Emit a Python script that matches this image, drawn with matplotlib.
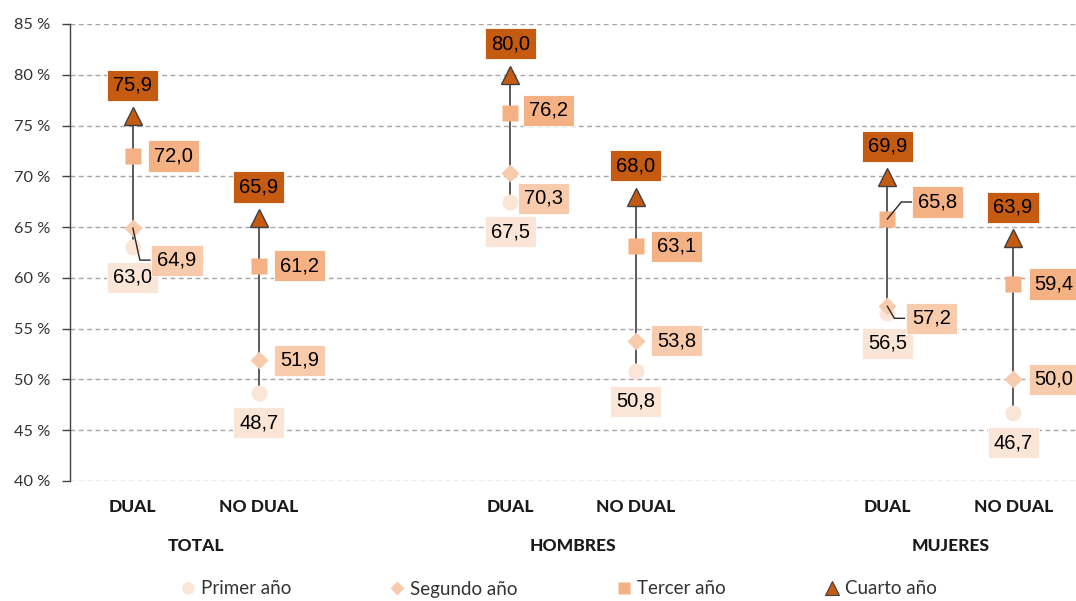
import matplotlib
matplotlib.use("Agg")
import matplotlib.pyplot as plt
from matplotlib.lines import Line2D
from matplotlib.transforms import blended_transform_factory

# --- data -------------------------------------------------------------
groups = ["TOTAL", "HOMBRES", "MUJERES"]
kinds = ["DUAL", "NO DUAL"]
primer = [63.0, 48.7, 67.5, 50.8, 56.5, 46.7]
segundo = [64.9, 51.9, 70.3, 53.8, 57.2, 50.0]
tercer = [72.0, 61.2, 76.2, 63.1, 65.8, 59.4]
cuarto = [75.9, 65.9, 80.0, 68.0, 69.9, 63.9]
yticks = [40, 45, 50, 55, 60, 65, 70, 75, 80, 85]
series_names = ["Primer año", "Segundo año", "Tercer año", "Cuarto año"]

# slot positions (one empty slot between groups)
xpos = [0, 1, 3, 4, 6, 7]

# --- style ------------------------------------------------------------
c1, c2, c3, c4 = "#FBE5D6", "#F8CBAD", "#F4B183", "#C55A11"
edge_dark = "#404040"
lab_font = "Liberation Sans"
ui_font = "Lato"

W, H, DPI = 1076, 601, 100
fig = plt.figure(figsize=(W / DPI, H / DPI), dpi=DPI)
ax = fig.add_axes([70 / W, 1 - 481 / H, 1 - 70 / W, (481 - 24) / H])
ax.set_xlim(-0.5, 7.5)
ax.set_ylim(40, 85)

# dashed horizontal grid
for v in yticks:
    ax.axhline(v, color="#A6A6A6", lw=1.0, ls=(0, (3.5, 2.5)), zorder=0)

for s in ["top", "right", "bottom"]:
    ax.spines[s].set_visible(False)
ax.spines["left"].set_color(edge_dark)
ax.spines["left"].set_linewidth(1.0)
ax.set_xticks([])
ax.set_yticks(yticks)
ax.set_yticklabels([f"{v} %" for v in yticks], fontfamily=ui_font,
                   fontsize=11.8, color="#333333")
ax.tick_params(axis="y", direction="out", length=6, width=1.0,
               color=edge_dark, pad=8)

# high-low lines
for x, lo, hi in zip(xpos, primer, cuarto):
    ax.plot([x, x], [lo, hi], color="#4D4D4D", lw=1.3, zorder=2)

ax.plot(xpos, primer, ls="none", marker="o", ms=11.5, mfc=c1, mec="none", zorder=3)
ax.plot(xpos, segundo, ls="none", marker="D", ms=9.5, mfc=c2, mec="none", zorder=3)
ax.plot(xpos, tercer, ls="none", marker="s", ms=11, mfc=c3, mec="none", zorder=3)
ax.plot(xpos, cuarto, ls="none", marker="^", ms=12.5, mfc=c4, mec=edge_dark,
        mew=1.0, zorder=4)

# label offsets in pixels (dx, dy up); a third entry gives a leader elbow
off1 = [(0, -30)] * 6
off2 = [(44, -32, (7, -32)), (41, 0), (33, -25), (41, 0), (44, -12, (7, -12)), (41, 0)]
off3 = [(41, 0), (41, 0), (38, 3), (41, 0), (50, 17, (14, 17)), (41, 0)]
off4 = [(0, 31)] * 6


def px_to_data(x, y, dx, dy):
    px, py = ax.transData.transform((x, y))
    return ax.transData.inverted().transform((px + dx, py + dy))


def labels(vals, offs, fc):
    for x, v, o in zip(xpos, vals, offs):
        dx, dy = o[0], o[1]
        ax.annotate(f"{v:.1f}".replace(".", ","), (x, v), xytext=(dx, dy),
                    textcoords="offset pixels", ha="center", va="center",
                    fontfamily=lab_font, fontsize=14.5, color="black", zorder=6,
                    bbox=dict(boxstyle="square,pad=0.3", fc=fc, ec="white",
                              lw=0.6))
        if len(o) == 3:
            ex, ey = o[2]
            p1 = px_to_data(x, v, ex, ey)
            p2 = px_to_data(x, v, ex + 10, ey)
            ax.plot([x, p1[0], p2[0]], [v, p1[1], p2[1]], color="#262626",
                    lw=1.0, zorder=5)


labels(primer, off1, c1)
labels(segundo, off2, c2)
labels(tercer, off3, c3)
labels(cuarto, off4, c4)

# category and group labels under the axis
tr = blended_transform_factory(ax.transData, fig.transFigure)
for i, x in enumerate(xpos):
    ax.text(x, 1 - 507 / H, kinds[i % 2], transform=tr, ha="center", va="center",
            fontfamily=ui_font, fontweight="black", fontsize=12.5, color="#1A1A1A")
for g, name in enumerate(groups):
    xc = (xpos[2 * g] + xpos[2 * g + 1]) / 2
    ax.text(xc, 1 - 546 / H, name, transform=tr, ha="center", va="center",
            fontfamily=ui_font, fontweight="black", fontsize=12.5, color="#1A1A1A")

handles = [
    Line2D([], [], ls="none", marker="o", ms=9, mfc=c1, mec="none"),
    Line2D([], [], ls="none", marker="D", ms=7, mfc=c2, mec="none"),
    Line2D([], [], ls="none", marker="s", ms=9, mfc=c3, mec="none"),
    Line2D([], [], ls="none", marker="^", ms=10, mfc=c4, mec=edge_dark, mew=0.8),
]
fig.legend(handles, series_names, loc="center", bbox_to_anchor=(559 / W, 12 / H),
           ncol=4, frameon=False, prop={"family": ui_font, "size": 13.5},
           handlelength=0.7, handletextpad=0.35, columnspacing=5.3,
           labelcolor="#333333", borderpad=0.0)

fig.savefig("out.png", dpi=DPI)
